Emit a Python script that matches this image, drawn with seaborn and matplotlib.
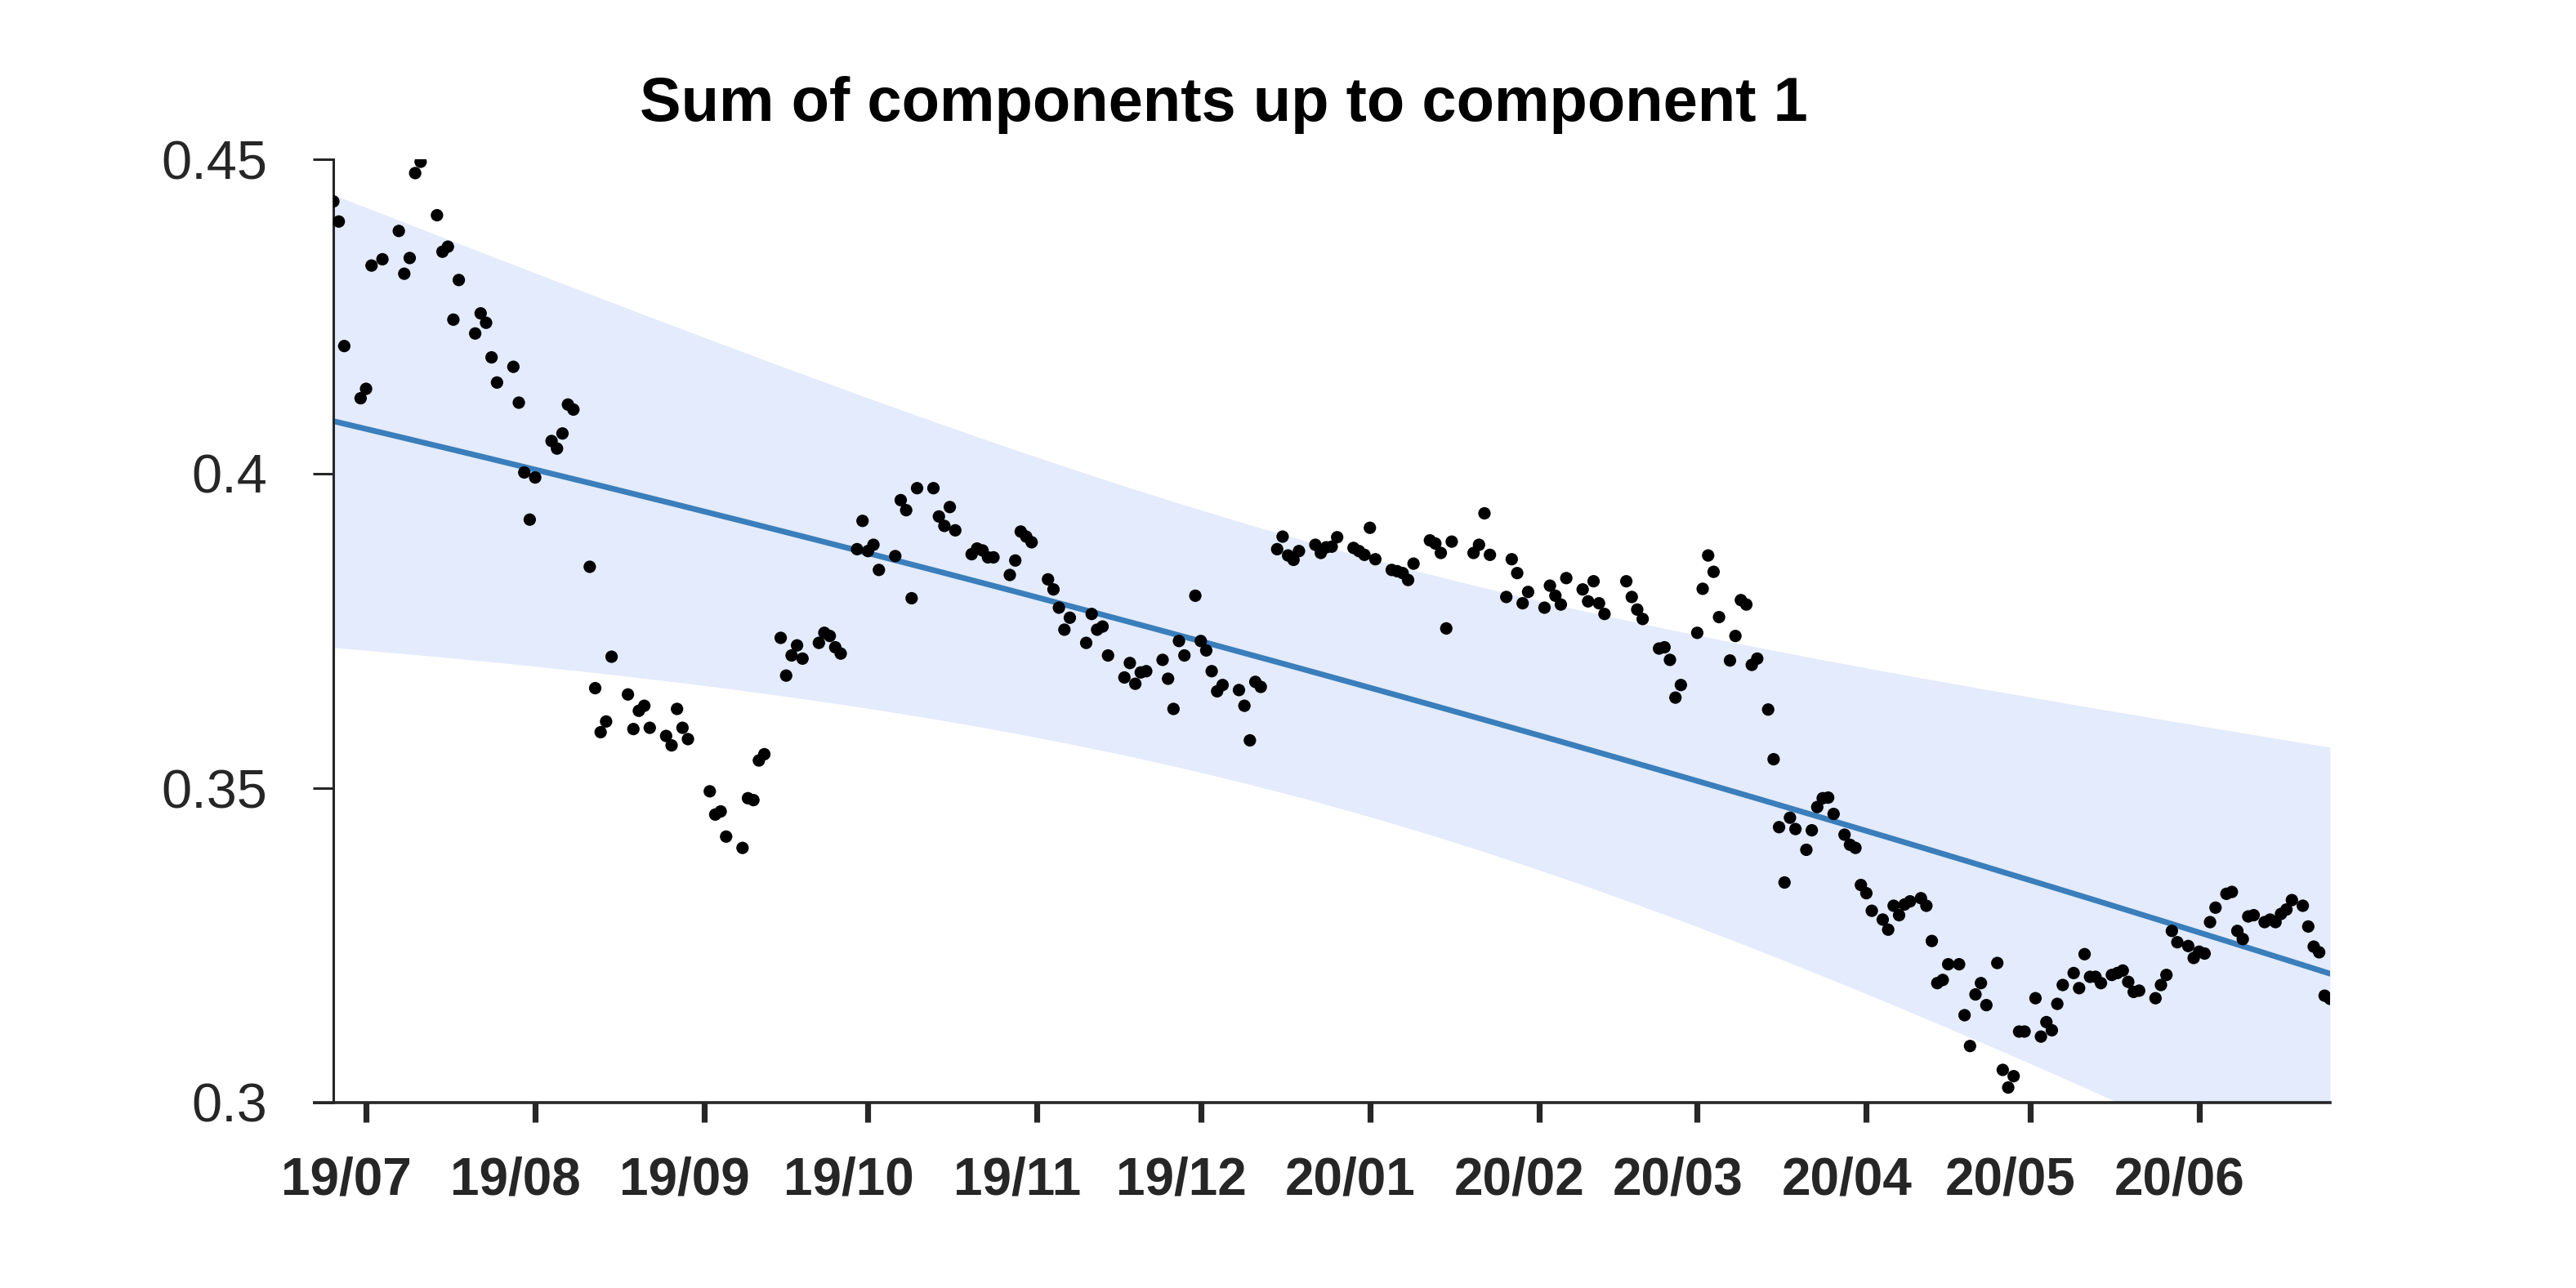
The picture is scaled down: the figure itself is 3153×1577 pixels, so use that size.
import numpy as np
import pandas as pd
import matplotlib
matplotlib.use("Agg")
import matplotlib.pyplot as plt
import matplotlib.transforms as mtransforms
import seaborn as sns

# ---------------- data ----------------
start_date = "2019-07-01"
day_offsets = [
    -6, -5, -4, -1, 0, 1, 3, 6, 7, 8, 9, 10, 13, 14, 15, 16, 17, 20, 21, 22, 23, 24,
    27, 28, 29, 30, 31, 34, 35, 36, 37, 38, 41, 42, 43, 44, 45, 48, 49, 50, 51, 52,
    55, 56, 57, 58, 59, 63, 64, 65, 66, 69, 70, 71, 72, 73, 76, 77, 78, 79, 80,
    83, 84, 85, 86, 87, 90, 91, 92, 93, 94, 97, 98, 99, 100, 101, 104, 105, 106, 107, 108,
    111, 112, 113, 114, 115, 118, 119, 120, 121, 122, 125, 126, 127, 128, 129,
    132, 133, 134, 135, 136, 139, 140, 141, 142, 143, 146, 147, 148, 149, 150,
    152, 153, 154, 155, 156, 157, 160, 161, 162, 163, 164, 167, 168, 169, 170, 171,
    174, 175, 176, 177, 178, 181, 182, 183, 184, 185, 188, 189, 190, 191, 192,
    195, 196, 197, 198, 199, 203, 204, 205, 206, 209, 210, 211, 212, 213,
    216, 217, 218, 219, 220, 223, 224, 225, 226, 227, 231, 232, 233, 234,
    237, 238, 239, 240, 241, 244, 245, 246, 247, 248, 250, 251, 252, 253, 254, 255,
    257, 258, 259, 260, 261, 262, 264, 265, 266, 267, 268, 269, 271, 272, 273, 274, 275, 276,
    278, 279, 280, 281, 282, 283, 285, 286, 287, 288, 289, 290, 292, 293, 294, 295, 296, 297,
    299, 300, 301, 302, 303, 304, 306, 307, 308, 309, 310, 311, 313, 314, 315, 316, 317, 318,
    320, 321, 322, 323, 324, 325, 328, 329, 330, 331, 332, 334, 335, 336, 337, 338, 339,
    341, 342, 343, 344, 345, 346, 348, 349, 350, 351, 352, 353, 355, 356, 357, 358, 359, 360,
]
values = [
    0.4433, 0.4401, 0.4203, 0.4120, 0.4135, 0.4331, 0.4341, 0.4386, 0.4318, 0.4343, 0.4478, 0.4496,
    0.4411, 0.4353, 0.4361, 0.4245, 0.4308, 0.4223, 0.4255, 0.4240, 0.4185, 0.4145,
    0.4170, 0.4113, 0.4002, 0.3927, 0.3994, 0.4052, 0.4040, 0.4064, 0.4110, 0.4102,
    0.3852, 0.3659, 0.3589, 0.3606, 0.3709, 0.3649, 0.3594, 0.3623, 0.3631, 0.3596,
    0.3583, 0.3568, 0.3626, 0.3596, 0.3578, 0.3495, 0.3458, 0.3463, 0.3423,
    0.3405, 0.3484, 0.3481, 0.3544, 0.3554, 0.3739, 0.3679, 0.3711, 0.3727, 0.3706,
    0.3731, 0.3747, 0.3742, 0.3724, 0.3714, 0.3880, 0.3925, 0.3877, 0.3887, 0.3847,
    0.3869, 0.3958, 0.3942, 0.3802, 0.3977, 0.3977, 0.3932, 0.3917, 0.3947, 0.3910,
    0.3872, 0.3881, 0.3878, 0.3867, 0.3867, 0.3839, 0.3862, 0.3908, 0.3900, 0.3891,
    0.3832, 0.3816, 0.3787, 0.3752, 0.3771,
    0.3731, 0.3777, 0.3752, 0.3757, 0.3711, 0.3676, 0.3699, 0.3666, 0.3684, 0.3686,
    0.3704, 0.3674, 0.3626, 0.3734, 0.3711,
    0.3806, 0.3734, 0.3719, 0.3686, 0.3654, 0.3664, 0.3656, 0.3631, 0.3576, 0.3669, 0.3661,
    0.3880, 0.3900, 0.3870, 0.3863, 0.3877,
    0.3887, 0.3874, 0.3883, 0.3884, 0.3899, 0.3882, 0.3877, 0.3871, 0.3914, 0.3864,
    0.3847, 0.3845, 0.3842, 0.3831, 0.3857,
    0.3894, 0.3889, 0.3874, 0.3754, 0.3892, 0.3874, 0.3887, 0.3937, 0.3871,
    0.3804, 0.3864, 0.3842, 0.3794, 0.3812,
    0.3787, 0.3822, 0.3806, 0.3792, 0.3834, 0.3816, 0.3797, 0.3829, 0.3794, 0.3777,
    0.3829, 0.3804, 0.3784, 0.3769,
    0.3722, 0.3724, 0.3704, 0.3644, 0.3664, 0.3747, 0.3817, 0.3870, 0.3844, 0.3772,
    0.3703, 0.3742, 0.3799, 0.3792, 0.3696, 0.3706,
    0.3625, 0.3546, 0.3438, 0.3350, 0.3453, 0.3435, 0.3402, 0.3433, 0.3470, 0.3484, 0.3485, 0.3459,
    0.3426, 0.3410, 0.3405, 0.3346, 0.3333, 0.3305,
    0.3291, 0.3275, 0.3313, 0.3298, 0.3315, 0.3320, 0.3325, 0.3313, 0.3257, 0.3190, 0.3195, 0.3220,
    0.3220, 0.3139, 0.3090, 0.3172, 0.3190, 0.3155,
    0.3222, 0.3052, 0.3024, 0.3042, 0.3113, 0.3113, 0.3166, 0.3105, 0.3128, 0.3115, 0.3157, 0.3187,
    0.3206, 0.3182, 0.3236, 0.3200, 0.3200, 0.3190,
    0.3203, 0.3206, 0.3210, 0.3192, 0.3176, 0.3178, 0.3166, 0.3187, 0.3203, 0.3273, 0.3255,
    0.3249, 0.3230, 0.3240, 0.3237, 0.3287, 0.3310,
    0.3332, 0.3335, 0.3273, 0.3260, 0.3296, 0.3298, 0.3287, 0.3291, 0.3287, 0.3300, 0.3307, 0.3322,
    0.3313, 0.3280, 0.3248, 0.3239, 0.3170, 0.3165,
]

# trend curve anchors and band half-widths
trend_days = [-6.7, 176.0, 360.0]
trend_values = [0.4085, 0.3679, 0.3205]
band_half_center = 0.0205
band_half_edge = 0.036

title = "Sum of components up to component 1"
ytick_values = [0.3, 0.35, 0.4, 0.45]
ytick_labels = ["0.3", "0.35", "0.4", "0.45"]
xtick_months = ["2019-07-01", "2019-08-01", "2019-09-01", "2019-10-01", "2019-11-01",
                "2019-12-01", "2020-01-01", "2020-02-01", "2020-03-01", "2020-04-01",
                "2020-05-01", "2020-06-01"]
xtick_labels = ["19/07", "19/08", "19/09", "19/10", "19/11", "19/12",
                "20/01", "20/02", "20/03", "20/04", "20/05", "20/06"]

# ---------------- styling ----------------
sns.set_theme(style="white")
plt.rcParams["font.family"] = ["Liberation Sans", "DejaVu Sans"]

W, H, DPI = 3153, 1577, 200
fig = plt.figure(figsize=(W / DPI, H / DPI), dpi=DPI)
ax_left, ax_right, ax_top, ax_bottom = 408, 2852, 195, 1350
ax = fig.add_axes([ax_left / W, 1 - ax_bottom / H, (ax_right - ax_left) / W, (ax_bottom - ax_top) / H])

start = pd.Timestamp(start_date)
dates = start + pd.to_timedelta(day_offsets, unit="D")
df = pd.DataFrame({"date": dates, "value": values})

# trend curve and band
grid = np.linspace(day_offsets[0], day_offsets[-1], 500)
coef = np.polyfit(trend_days, trend_values, 2)
trend = np.polyval(coef, grid)
center = (day_offsets[0] + day_offsets[-1]) / 2
half = (day_offsets[-1] - day_offsets[0]) / 2
w = np.sqrt(band_half_center**2 + (band_half_edge**2 - band_half_center**2) * ((grid - center) / half) ** 2)
gdates = start + pd.to_timedelta(grid, unit="D")
trend_df = pd.DataFrame({"date": gdates, "trend": trend})

ax.fill_between(gdates, trend - w, trend + w, color="#e3ebfc", linewidth=0, zorder=1)
sns.lineplot(data=trend_df, x="date", y="trend", ax=ax, color="#3a7ebb", linewidth=2.5, zorder=2)
sns.scatterplot(data=df, x="date", y="value", ax=ax, color="black", s=30,
                edgecolor="none", linewidth=0, zorder=3)

ax.set_xlim(dates[0], dates[-1])
ax.set_ylim(0.3, 0.45)
ax.set_xlabel("")
ax.set_ylabel("")

ax.set_yticks(ytick_values)
ax.set_yticklabels(ytick_labels)
ax.set_xticks(pd.to_datetime(xtick_months))
ax.set_xticklabels(xtick_labels, fontweight="bold")

axis_color = "#262626"
ax.tick_params(axis="y", direction="out", length=9, width=1.1, pad=20, labelsize=24,
               colors=axis_color, left=True)
ax.tick_params(axis="x", direction="out", length=8.6, width=2.6, pad=15, labelsize=23,
               colors=axis_color, bottom=True)

# x tick labels sit slightly left of their ticks in the reference
shift = mtransforms.ScaledTranslation(-24 / DPI, 0, fig.dpi_scale_trans)
for lbl in ax.get_xticklabels():
    lbl.set_transform(lbl.get_transform() + shift)

for side in ["top", "right"]:
    ax.spines[side].set_visible(False)
ax.spines["left"].set_linewidth(1.1)
ax.spines["left"].set_color(axis_color)
ax.spines["bottom"].set_linewidth(1.3)
ax.spines["bottom"].set_color(axis_color)
# x axis line extends a little left of the y axis
ax.plot([-25 / (ax_right - ax_left), 0], [0, 0], transform=ax.transAxes, clip_on=False,
        color=axis_color, linewidth=1.3, solid_capstyle="butt", zorder=5)
ax.grid(False)

fig.text(1498 / W, 1 - 129 / H, title, ha="center", va="center",
         fontsize=27.3, fontweight="bold", color="black")

fig.savefig("out.png", dpi=DPI)
